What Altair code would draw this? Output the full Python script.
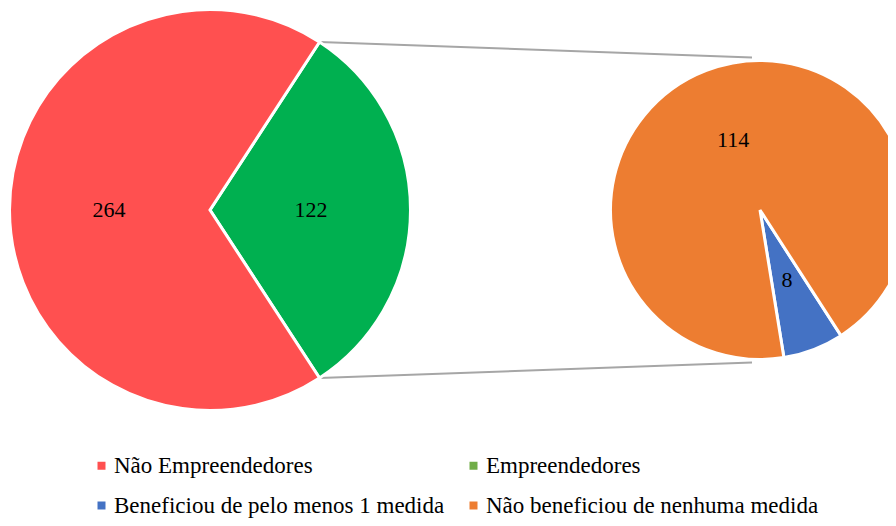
import math
import altair as alt
import pandas as pd

# ---- data ----
main_cats = ["Empreendedores", "Não Empreendedores"]
main_vals = [122, 264]
main_colors = ["#00B050", "#FF5050"]

sub_cats = ["Beneficiou de pelo menos 1 medida", "Não beneficiou de nenhuma medida"]
sub_vals = [8, 114]
sub_colors = ["#4472C4", "#ED7D31"]

# legend entries (filled column by column: left column first)
legend_cats = ["Não Empreendedores", "Beneficiou de pelo menos 1 medida",
               "Empreendedores", "Não beneficiou de nenhuma medida"]
legend_colors = ["#FF5050", "#4472C4", "#70AD47", "#ED7D31"]

FONT = "Liberation Serif"

# ---- layout (chart coordinates) ----
W, H = 880, 510
L_CX, L_CY, L_R = 202, 202, 200.5
R_CX, R_CY, R_R = 752, 202, 149.5

main_df = pd.DataFrame({"cat": main_cats, "value": main_vals,
                        "hex": main_colors, "ord": list(range(len(main_cats)))})
sub_df = pd.DataFrame({"cat": sub_cats, "value": sub_vals,
                       "hex": sub_colors, "ord": list(range(len(sub_cats)))})
leg_df = pd.DataFrame({"cat": legend_cats})

tot_main = sum(main_vals)
span0 = 2 * math.pi * main_vals[0] / tot_main
a0 = math.pi / 2 - span0 / 2
a1 = a0 + span0
tot_sub = sum(sub_vals)
b0 = math.radians(159) - math.pi * sub_vals[0] / tot_sub


def pie(df, start, cx, cy, r, label_r):
    base = alt.Chart(df).encode(
        theta=alt.Theta("value:Q", stack=True,
                        scale=alt.Scale(range=[start, start + 2 * math.pi])),
        order=alt.Order("ord:Q"),
        detail="cat:N",
        x=alt.value(cx),
        y=alt.value(cy),
    )
    arc = base.mark_arc(outerRadius=r, stroke="white", strokeWidth=3).encode(
        color=alt.Color("hex:N", scale=None)
    )
    txt = base.mark_text(radius=label_r, font=FONT, fontSize=22, color="black").encode(
        text="value:Q"
    )
    return alt.layer(arc, txt)


left = pie(main_df, a0, L_CX, L_CY, L_R, 101)
right = pie(sub_df, b0, R_CX, R_CY, R_R, 75)

p_top = (L_CX + L_R * math.sin(a0), L_CY - L_R * math.cos(a0))
p_bot = (L_CX + L_R * math.sin(a1), L_CY - L_R * math.cos(a1))
q_top = (R_CX - 8, R_CY - R_R - 3)
q_bot = (R_CX - 8, R_CY + R_R + 3)

line1 = alt.Chart(leg_df.head(1)).mark_rule(color="#A6A6A6", strokeWidth=2).encode(
    x=alt.value(p_top[0]), y=alt.value(p_top[1]),
    x2=alt.value(q_top[0]), y2=alt.value(q_top[1]))
line2 = alt.Chart(leg_df.head(1)).mark_rule(color="#A6A6A6", strokeWidth=2).encode(
    x=alt.value(p_bot[0]), y=alt.value(p_bot[1]),
    x2=alt.value(q_bot[0]), y2=alt.value(q_bot[1]))

legend_layer = alt.Chart(leg_df).mark_square(size=64).encode(
    x=alt.value(-100), y=alt.value(-100),
    color=alt.Color("cat:N",
                    scale=alt.Scale(domain=legend_cats, range=legend_colors),
                    sort=legend_cats,
                    legend=alt.Legend(
                        title=None, orient="none", legendX=82, legendY=446,
                        columns=2, columnPadding=17, rowPadding=16,
                        symbolType="square", symbolSize=64, symbolStrokeWidth=0,
                        symbolOpacity=1, labelFont=FONT, labelFontSize=23,
                        labelColor="black", labelLimit=0, labelOffset=1,
                        padding=0)))

chart = alt.layer(line1, line2, left, right, legend_layer).resolve_scale(
    theta="independent", color="independent"
).properties(
    width=W, height=H, padding=0,
    autosize=alt.AutoSizeParams(type="none"),
).configure_view(stroke=None)

chart.save("out.html", embed_options={"renderer": "svg", "actions": False})
